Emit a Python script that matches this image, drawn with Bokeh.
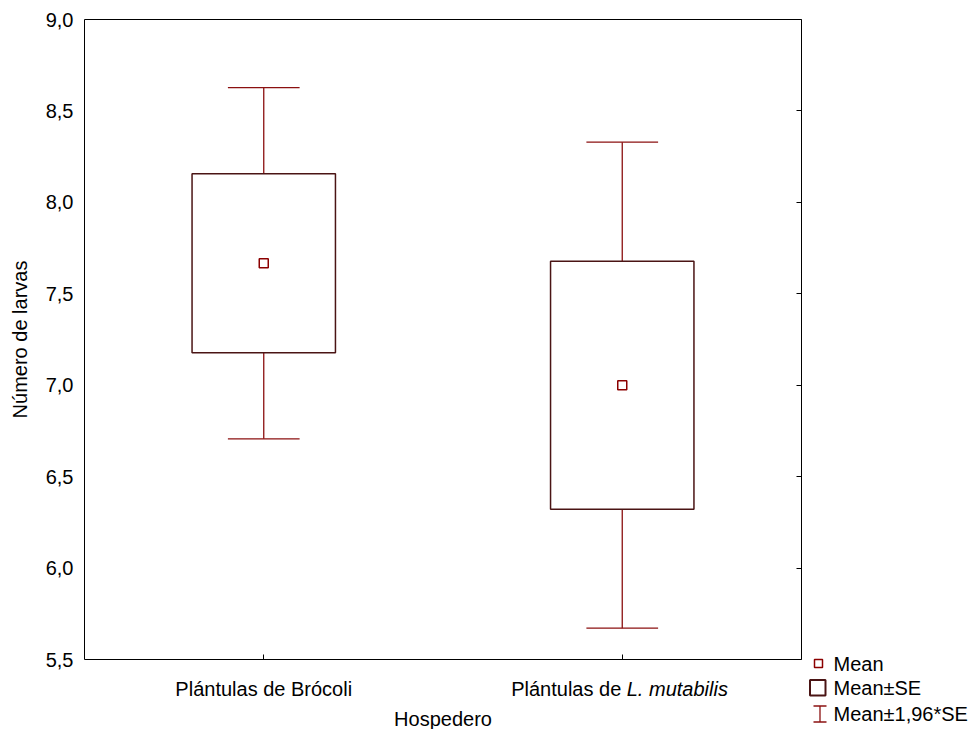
from bokeh.plotting import figure
from bokeh.layouts import row, column
from bokeh.models import Range1d, FixedTicker, LinearAxis, ColumnDataSource
from bokeh.core.properties import value
from bokeh.embed import file_html
from bokeh.resources import INLINE

# --- data -------------------------------------------------------------
categories = ["Plántulas de Brócoli", "Plántulas de L. mutabilis"]
means = [7.667, 7.0]
std_errors = [0.49, 0.678]
ci_factor = 1.96

y_ticks = [5.5, 6.0, 6.5, 7.0, 7.5, 8.0, 8.5, 9.0]
y_tick_labels = ["5,5", "6,0", "6,5", "7,0", "7,5", "8,0", "8,5", "9,0"]
x_title = "Hospedero"
y_title = "Número de larvas"
legend_labels = ["Mean", "Mean±SE", "Mean±1,96*SE"]

# --- derived statistics -----------------------------------------------
xpos = [i + 0.5 for i in range(len(categories))]
se_low = [m - s for m, s in zip(means, std_errors)]
se_high = [m + s for m, s in zip(means, std_errors)]
ci_low = [m - ci_factor * s for m, s in zip(means, std_errors)]
ci_high = [m + ci_factor * s for m, s in zip(means, std_errors)]

src = ColumnDataSource(dict(
    x=xpos, mean=means, se_low=se_low, se_high=se_high,
    ci_low=ci_low, ci_high=ci_high,
    box_l=[x - 0.2 for x in xpos], box_r=[x + 0.2 for x in xpos],
    cap_l=[x - 0.1 for x in xpos], cap_r=[x + 0.1 for x in xpos],
))

FONT = "Liberation Sans"
FS = "20px"
WHISK = "#8b1010"
BOXC = "#4a1414"
MEANC = "#8b0000"

W, H = 972, 729
LEFT_W = 806          # main plot column width
LEG_W = W - LEFT_W    # legend column width
MAIN_H = 672
BOT_H = H - MAIN_H

x_range = Range1d(0, len(categories))


def bare(fig):
    fig.grid.visible = False
    fig.axis.visible = False
    fig.outline_line_color = None
    fig.background_fill_color = "white"
    fig.border_fill_color = "white"


# --- main plot ----------------------------------------------------------
p = figure(width=LEFT_W, height=MAIN_H, x_range=x_range,
           y_range=Range1d(y_ticks[0], y_ticks[-1]),
           output_backend="svg", toolbar_location=None,
           min_border_left=84, min_border_right=5,
           min_border_top=19, min_border_bottom=MAIN_H - 659)
p.grid.visible = False
p.outline_line_color = "black"
p.outline_line_width = 1
p.background_fill_color = "white"
p.border_fill_color = "white"

ya = p.yaxis[0]
ya.ticker = FixedTicker(ticks=y_ticks)
ya.major_label_overrides = {t: s for t, s in zip(y_ticks, y_tick_labels)}
ya.major_tick_in = 0
ya.major_tick_out = 0
ya.minor_tick_line_color = None
ya.axis_line_color = None
ya.major_label_standoff = 11
ya.major_label_text_font = FONT
ya.major_label_text_font_size = FS
ya.major_label_text_color = "black"
ya.axis_label = y_title
ya.axis_label_text_font = FONT
ya.axis_label_text_font_size = FS
ya.axis_label_text_font_style = "normal"
ya.axis_label_text_color = "black"
ya.axis_label_standoff = 12

# right side: inner ticks only
ra = LinearAxis(ticker=FixedTicker(ticks=y_ticks),
                major_label_overrides={t: "" for t in y_ticks},
                major_tick_in=5, major_tick_out=0, major_label_standoff=0,
                minor_tick_line_color=None, axis_line_color=None,
                major_tick_line_color="black",
                major_label_text_font_size="0px")
p.add_layout(ra, "right")

# bottom: inner category ticks, names drawn underneath
xa = p.xaxis[0]
xa.ticker = FixedTicker(ticks=xpos)
xa.major_label_overrides = {x: "" for x in xpos}
xa.major_label_text_font_size = "0px"
xa.major_label_standoff = 0
xa.major_tick_in = 5
xa.major_tick_out = 0
xa.minor_tick_line_color = None
xa.axis_line_color = None

# whiskers (mean ± 1.96 SE)
for y0, y1 in (("se_high", "ci_high"), ("se_low", "ci_low")):
    p.segment(x0="x", y0=y0, x1="x", y1=y1, source=src,
              line_color=WHISK, line_width=1.3)
for yc in ("ci_high", "ci_low"):
    p.segment(x0="cap_l", y0=yc, x1="cap_r", y1=yc, source=src,
              line_color=WHISK, line_width=1.3)

# boxes (mean ± SE)
p.quad(left="box_l", right="box_r", bottom="se_low", top="se_high", source=src,
       fill_color="white", line_color=BOXC, line_width=1.5)

# means
p.scatter(x="x", y="mean", source=src, marker="square", size=9,
          fill_color="white", line_color=MEANC, line_width=1.5)

# --- category names and axis title under the plot ----------------------
b = figure(width=LEFT_W, height=BOT_H, x_range=x_range, y_range=Range1d(0, BOT_H),
           output_backend="svg", toolbar_location=None,
           min_border_left=84, min_border_right=5, min_border_top=0,
           min_border_bottom=0)
bare(b)

head, tail = categories[1].split(" L.")
cat_src = ColumnDataSource(dict(
    x=[xpos[0], xpos[1], xpos[1]],
    text=[categories[0], head, "L." + tail],
    align=["center", "right", "left"],
    style=["normal", "normal", "italic"],
    dx=[0, -1, 4.5],
))
b.text(x="x", y=41, text="text", source=cat_src, x_offset="dx",
       text_align="align", text_font_style="style", text_baseline="alphabetic",
       text_font=value(FONT), text_font_size=value(FS), text_color="black")
b.text(x=[sum(xpos) / len(xpos)], y=[11], text=[x_title], text_align="center",
       text_baseline="middle", text_font=value(FONT), text_font_size=value(FS),
       text_color="black")

# --- legend column --------------------------------------------------------
lg = figure(width=LEG_W, height=H, x_range=Range1d(0, LEG_W), y_range=Range1d(0, H),
            output_backend="svg", toolbar_location=None,
            min_border_left=0, min_border_right=0, min_border_top=0,
            min_border_bottom=0)
bare(lg)

icon_x = 13
row_y = [H - 663, H - 687.5, H - 713]
lg.scatter(x=[icon_x - 1], y=[row_y[0]], marker="square", size=8,
           fill_color="white", line_color=MEANC, line_width=1.5)
lg.quad(left=[icon_x - 9.5], right=[icon_x + 6], bottom=[row_y[1] - 7.5],
        top=[row_y[1] + 8], fill_color="white", line_color=BOXC, line_width=2)
wy0, wy1 = row_y[2] - 8.5, row_y[2] + 7.5
lg.multi_line(xs=[[icon_x - 6, icon_x + 7], [icon_x + 0.5, icon_x + 0.5],
                  [icon_x - 6, icon_x + 7]],
              ys=[[wy1, wy1], [wy1, wy0], [wy0, wy0]],
              line_color=WHISK, line_width=1.3)
lg.text(x=[27] * 3, y=row_y, text=legend_labels, text_align="left",
        text_baseline="middle", text_font=value(FONT), text_font_size=value(FS),
        text_color="black")

layout = row(column(p, b, spacing=0), lg, spacing=0)
open("out.html", "w").write(file_html(layout, INLINE))
